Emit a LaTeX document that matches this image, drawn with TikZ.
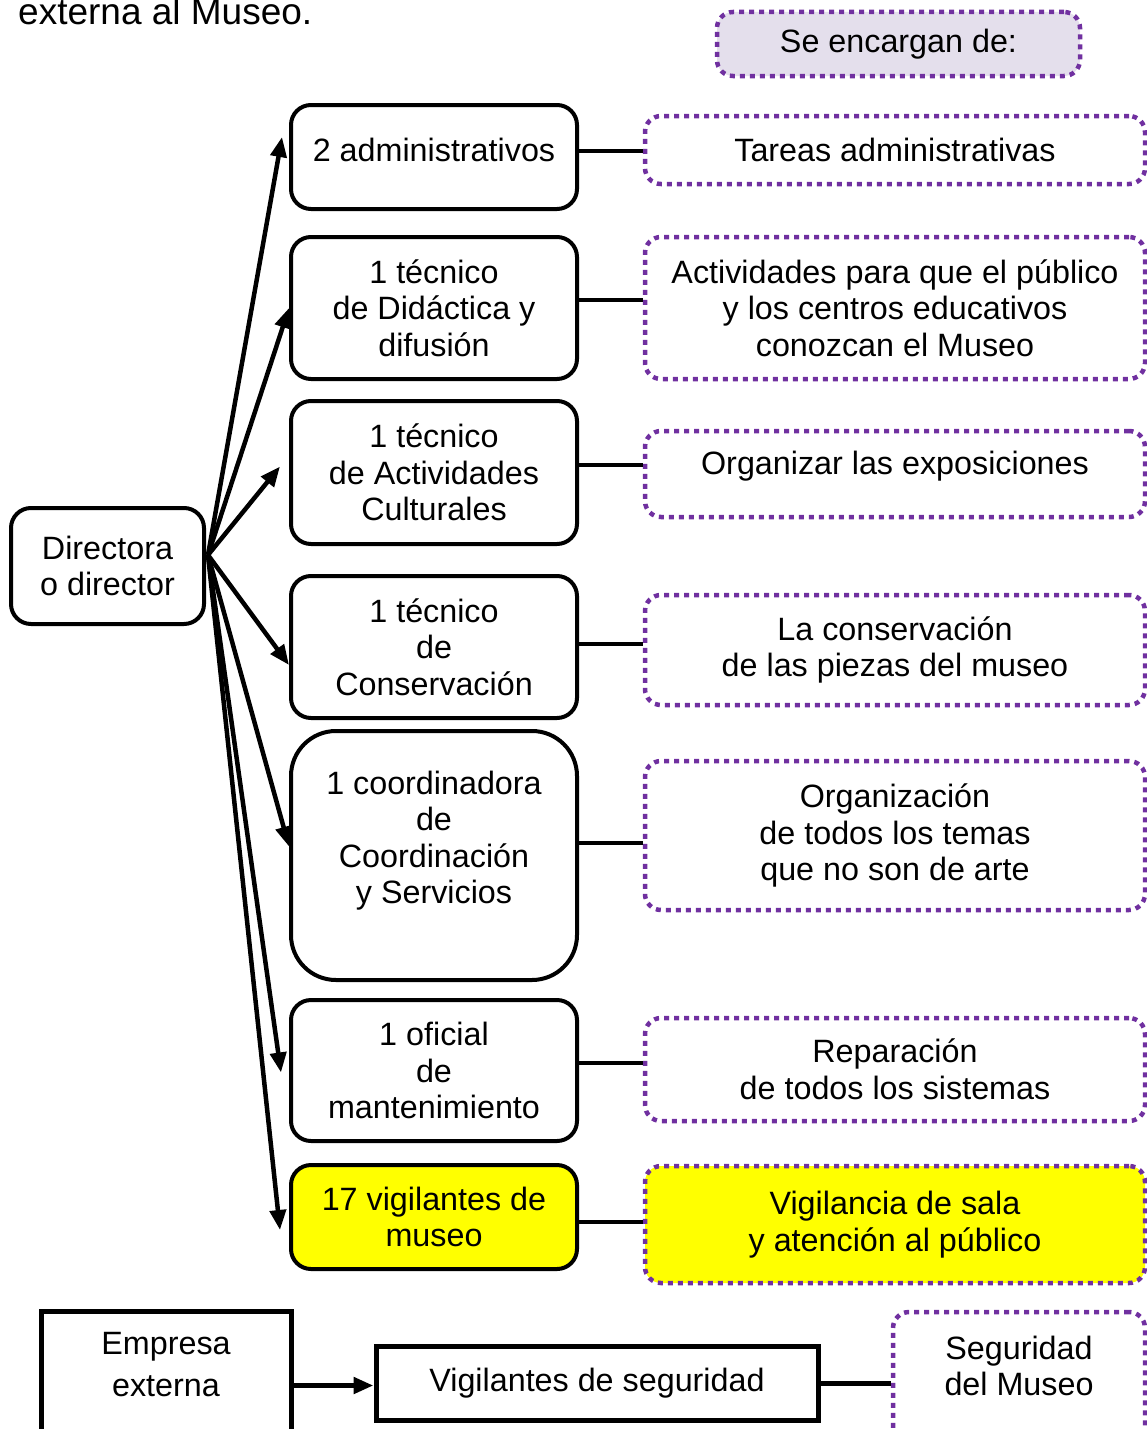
\documentclass[tikz,border=0pt]{standalone}
\usepackage{fontspec}
\setmainfont{Liberation Sans}
\usetikzlibrary{arrows.meta}
\definecolor{purp}{HTML}{7030A0}
\definecolor{lav}{HTML}{E4DFEC}
\definecolor{yel}{HTML}{FFFF00}
\begin{document}
\begin{tikzpicture}[x=1pt,y=-1pt,
  every node/.style={font=\fontsize{32.3}{36.5}\selectfont, align=center, inner sep=0pt},
  blk/.style={draw=black, line width=4pt, rounded corners=20pt, minimum width=286pt},
  dotbox/.style={draw=purp, line width=4.5pt, dash pattern=on 5pt off 5pt, rounded corners=16pt, minimum width=500pt},
  arr/.style={line width=4.5pt, -{Triangle[length=20pt,width=16pt]}},
  conn/.style={line width=4pt},
  sq/.style={draw=black, line width=5pt}]
\useasboundingbox (0,0) rectangle (1147,1429);
\clip (0,0) rectangle (1147,1429);

\node[anchor=base west, font=\fontsize{37}{44}\selectfont] (intro) at (18,25) {externa al Museo.};
\node[dotbox, fill=lav, minimum width=363pt, minimum height=64pt] (hdr) at (898.5,44) {Se encargan de:};

% director
\node[blk, minimum width=193pt, minimum height=116pt] (dir) at (107.5,566) {Directora\\o director};

% staff boxes
\node[blk, minimum height=104pt, text depth=14pt] (b1) at (434,157) {2 administrativos};
\node[blk, minimum height=142pt] (b2) at (434,308) {1 técnico\\de Didáctica y\\difusión};
\node[blk, minimum height=143pt] (b3) at (434,472.5) {1 técnico\\de Actividades\\Culturales};
\node[blk, minimum height=142pt] (b4) at (434,647) {1 técnico\\de\\Conservación};
\node[blk, minimum height=249pt, rounded corners=45pt] (b5) at (434,855.5) {1 coordinadora\\de\\Coordinación\\y Servicios\\\mbox{}};
\node[blk, minimum height=141pt] (b6) at (434,1070.5) {1 oficial\\de\\mantenimiento};
\node[blk, minimum height=104pt, fill=yel] (b7) at (434,1217) {17 vigilantes de\\museo};

% task boxes
\node[dotbox, minimum height=68pt] (r1) at (895,150) {Tareas administrativas};
\node[dotbox, minimum height=142pt] (r2) at (895,308) {Actividades para que el público\\y los centros educativos\\conozcan el Museo};
\node[dotbox, minimum height=86pt, text depth=22pt] (r3) at (895,474) {Organizar las exposiciones};
\node[dotbox, minimum height=110pt] (r4) at (895,650) {La conservación\\de las piezas del museo};
\node[dotbox, minimum height=149pt] (r5) at (895,835.5) {Organización\\de todos los temas\\que no son de arte};
\node[dotbox, minimum height=103pt] (r6) at (895,1069.5) {Reparación\\de todos los sistemas};
\node[dotbox, minimum height=117pt, fill=yel] (r7) at (895,1224.5) {Vigilancia de sala\\y atención al público};

% connectors staff -> tasks
\draw[conn] ([yshift=6pt]b1.east) -- ([yshift=6pt]b1.east -| r1.west);
\draw[conn] ([yshift=8pt]b2.east) -- ([yshift=8pt]b2.east -| r2.west);
\draw[conn] ([yshift=8pt]b3.east) -- ([yshift=8pt]b3.east -| r3.west);
\draw[conn] ([yshift=3pt]b4.east) -- ([yshift=3pt]b4.east -| r4.west);
\draw[conn] ([yshift=13pt]b5.east) -- ([yshift=13pt]b5.east -| r5.west);
\draw[conn] ([yshift=8pt]b6.east) -- ([yshift=8pt]b6.east -| r6.west);
\draw[conn] ([yshift=-5pt]b7.east) -- ([yshift=-5pt]b7.east -| r7.west);

% arrows from director
\coordinate (hub) at ([xshift=2pt,yshift=11pt]dir.east);
\draw[arr] (hub) -- ([xshift=-7pt,yshift=20pt]b1.west);
\draw[arr] (hub) -- (b2.west);
\draw[arr] (hub) -- ([xshift=-9pt,yshift=6pt]b3.west);
\draw[arr] (hub) -- ([yshift=-18pt]b4.west);
\draw[arr] (hub) -- ([yshift=9pt]b5.west);
\draw[arr] (hub) -- ([xshift=-8pt,yshift=-2pt]b6.west);
\draw[arr] (hub) -- ([xshift=-9pt,yshift=-13pt]b7.west);

% bottom row
\node[sq, minimum width=250pt, minimum height=149pt] (emp) at (166,1385.5) {};
\node[font=\fontsize{32.3}{42}\selectfont] (empt) at (166,1365) {Empresa\\externa};
\node[sq, minimum width=442pt, minimum height=74pt] (vig) at (597,1383) {Vigilantes de seguridad};
\node[dotbox, minimum width=252pt, minimum height=148pt] (seg) at (1019,1386) {};
\node (segt) at (1019,1366) {Seguridad\\del Museo};
\draw[arr, line width=5pt] (emp.east) -- (emp.east -| vig.west);
\draw[conn, line width=5pt] (vig.east) -- (vig.east -| seg.west);
\end{tikzpicture}
\end{document}
